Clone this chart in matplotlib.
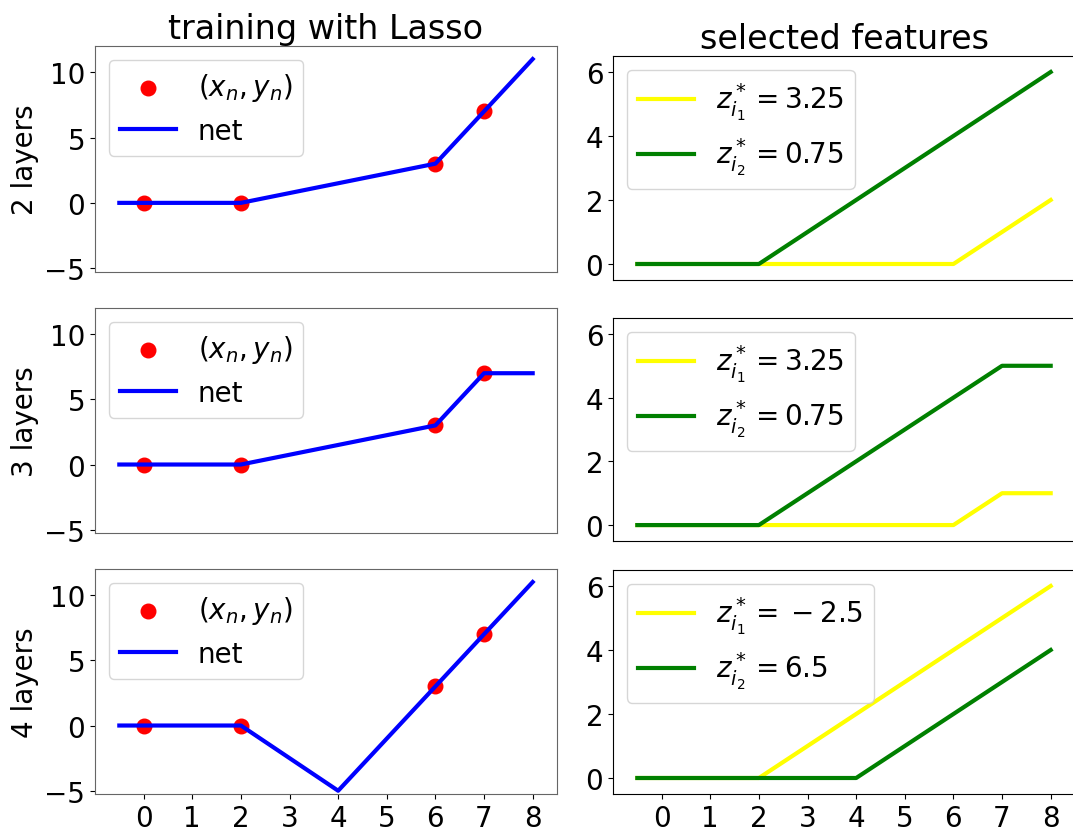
import numpy as np
import matplotlib.pyplot as plt

# data points
x_data = [0, 2, 6, 7]
y_data = [0, 0, 3, 7]

# knots of the piecewise linear curves
x_knots = [-0.5, 2, 4, 6, 7, 8]

net_2 = [0, 0, 1.5, 3, 7, 11]
net_3 = [0, 0, 1.5, 3, 7, 7]
net_4 = [0, 0, -5, 3, 7, 11]

feat1_2 = [0, 0, 0, 0, 1, 2]
feat2_2 = [0, 0, 2, 4, 5, 6]
feat1_3 = [0, 0, 0, 0, 1, 1]
feat2_3 = [0, 0, 2, 4, 5, 5]
feat1_4 = [0, 0, 2, 4, 5, 6]
feat2_4 = [0, 0, 0, 2, 3, 4]

z1 = ['3.25', '3.25', r'\:-\:2.5']
z2 = ['0.75', '0.75', '6.5']
row_labels = ['2 layers', '3 layers', '4 layers']

nets = [net_2, net_3, net_4]
feats1 = [feat1_2, feat1_3, feat1_4]
feats2 = [feat2_2, feat2_3, feat2_4]

W, H = 1073, 829
fig = plt.figure(figsize=(W / 100, H / 100), dpi=100)

def box(x0, y0, x1, y1):
    # pixel box -> figure fraction
    return [x0 / W, 1 - y1 / H, (x1 - x0) / W, (y1 - y0) / H]

left_boxes = [(95, 47, 557, 272.5), (95, 309, 557, 534), (95, 570, 557, 795)]
right_boxes = [(613, 57, 1075, 281), (613, 319, 1075, 542), (613, 571, 1075, 795)]

fs = 20
for i in range(3):
    axl = fig.add_axes(box(*left_boxes[i]))
    axr = fig.add_axes(box(*right_boxes[i]))

    # left: training
    axl.scatter(x_data, y_data, s=110, color='red', label=r'$(x_n, y_n)$', zorder=2)
    axl.plot(x_knots, nets[i], color='blue', lw=3, label='net', zorder=3)
    axl.set_xlim(-1, 8.5)
    axl.set_ylim(-5.25, 12)
    axl.set_yticks([-5, 0, 5, 10])
    axl.set_ylabel(row_labels[i], fontsize=fs)
    axl.legend(loc='upper left', fontsize=fs)
    for sp in axl.spines.values():
        sp.set_color('#666666')

    # right: features
    axr.plot(x_knots, feats1[i], color='yellow', lw=3, label=r'$z^*_{i_1} =' + z1[i] + '$')
    axr.plot(x_knots, feats2[i], color='green', lw=3, label=r'$z^*_{i_2} = ' + z2[i] + '$')
    axr.set_xlim(-1, 8.5)
    axr.set_ylim(-0.5, 6.5)
    axr.set_yticks([0, 2, 4, 6])
    axr.legend(loc='upper left', fontsize=fs)

    for ax in (axl, axr):
        ax.tick_params(labelsize=fs)
        ax.set_xticks(np.arange(0, 9))
        if i < 2:
            ax.tick_params(bottom=False, labelbottom=False)

    if i == 0:
        axl.set_title('training with Lasso', fontsize=24)
        axr.set_title('selected features', fontsize=24)

plt.savefig('out.png', dpi=100)
